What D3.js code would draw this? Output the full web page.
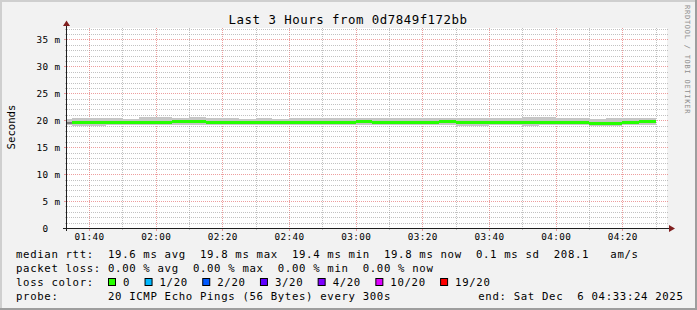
<!DOCTYPE html>
<html>
<head>
<meta charset="utf-8">
<script src="https://cdn.jsdelivr.net/npm/d3@7"></script>
<style>
  body { margin: 0; background: #f2f2f2; }
  svg { display: block; }
  text { font-family: "DejaVu Sans Mono", monospace; white-space: pre; }
</style>
</head>
<body>
<div id="chart"></div>
<script>
// 5 minute steps (UTC clock used as local time of the graph)
const stepStarts = [
  "01:30", "01:35", "01:40", "01:45", "01:50", "01:55",
  "02:00", "02:05", "02:10", "02:15", "02:20", "02:25",
  "02:30", "02:35", "02:40", "02:45", "02:50", "02:55",
  "03:00", "03:05", "03:10", "03:15", "03:20", "03:25",
  "03:30", "03:35", "03:40", "03:45", "03:50", "03:55",
  "04:00", "04:05", "04:10", "04:15", "04:20", "04:25",
];
// median rtt in ms (first partial step has no median drawn)
const medianMs = [
  null, 19.55, 19.55, 19.6, 19.6, 19.6, 19.6, 19.8, 19.8, 19.65, 19.55, 19.6,
  19.65, 19.55, 19.6, 19.5, 19.6, 19.65, 19.75, 19.6, 19.6, 19.65, 19.55, 19.7,
  19.55, 19.5, 19.65, 19.55, 19.55, 19.65, 19.6, 19.6, 19.45, 19.4, 19.6, 19.8,
];
// smoke: outer spread of the 20 pings
const smokeLo = [
  19.1, 18.95, 18.95, 19.1, 19.15, 19.1, 19.05, 19.2, 19.15, 19.05, 19.1, 19.1,
  19.05, 19.1, 19.05, 19.15, 19.1, 19.1, 19.15, 19.05, 19.1, 19.05, 19.1, 19.15,
  19.0, 18.95, 19.1, 19.05, 18.95, 19.1, 19.1, 19.05, 19.0, 19.0, 19.1, 19.2,
];
const smokeHi = [
  20.3, 20.35, 20.35, 20.4, 20.3, 20.55, 20.55, 20.4, 20.55, 20.45, 20.35, 20.3,
  20.35, 20.3, 20.35, 20.35, 20.4, 20.35, 20.45, 20.5, 20.5, 20.4, 20.35, 20.45,
  20.4, 20.35, 20.45, 20.5, 20.55, 20.55, 20.5, 20.4, 20.3, 20.35, 20.4, 20.4,
];
// smoke: inner (denser) part of the pings
const innerLo = [
  19.4, 19.3, 19.3, 19.35, 19.4, 19.35, 19.35, 19.55, 19.5, 19.4, 19.3, 19.35,
  19.4, 19.3, 19.35, 19.3, 19.35, 19.4, 19.5, 19.3, 19.35, 19.4, 19.3, 19.45,
  19.3, 19.25, 19.4, 19.3, 19.3, 19.35, 19.35, 19.35, 19.2, 19.15, 19.35, 19.55,
];
const innerHi = [
  19.75, 19.8, 19.8, 19.9, 19.85, 19.9, 19.9, 20.0, 20.05, 19.9, 19.8, 19.85,
  19.9, 19.8, 19.85, 19.8, 19.9, 19.85, 19.95, 19.9, 19.9, 19.9, 19.8, 19.95,
  19.8, 19.75, 19.9, 19.85, 19.85, 19.95, 19.9, 19.85, 19.7, 19.65, 19.85, 20.0,
];
const lossLabels = ["0", "1/20", "2/20", "3/20", "4/20", "10/20", "19/20"];
const lossColors = ["#26ff00", "#00b8ff", "#0059ff", "#5e00ff", "#7e00ff", "#dd00ff", "#ff0000"];

const width = 697;
const height = 310;
const plotL = 67, plotR = 667, plotT = 28, plotB = 228;

const day = (h, m, s) => new Date(Date.UTC(2025, 11, 6, h, m, s || 0));
const t0 = day(1, 33, 24);
const t1 = day(4, 33, 24);

const x = d3.scaleUtc().domain([t0, t1]).range([plotL, plotR]);
const y = d3.scaleLinear().domain([0, 37.13]).range([plotB, plotT]);

const svg = d3.select("#chart").append("svg")
  .attr("width", width)
  .attr("height", height);

// background + 3d frame
svg.append("rect").attr("width", width).attr("height", height).attr("fill", "#f2f2f2");
svg.append("path").attr("d", `M0,0H${width}V2H2V${height}H0Z`).attr("fill", "#cfcfcf");
svg.append("path").attr("d", `M${width},${height}H0V${height - 2}H${width - 2}V0H${width}Z`).attr("fill", "#9e9e9e");

svg.append("rect")
  .attr("x", plotL).attr("y", plotT)
  .attr("width", plotR - plotL).attr("height", plotB - plotT)
  .attr("fill", "#ffffff");

const minorCol = "rgba(143,143,143,0.55)";
const majorCol = "rgba(222,79,79,0.55)";

const grid = svg.append("g").attr("shape-rendering", "crispEdges");

// vertical grid
const vTimes = d3.utcMinute.every(10).range(t0, t1);
vTimes.forEach((t) => {
  const major = t.getUTCMinutes() % 20 === 0;
  const xx = Math.round(x(t)) + 0.5;
  grid.append("line")
    .attr("x1", xx).attr("x2", xx)
    .attr("y1", plotT).attr("y2", plotB)
    .attr("stroke", major ? majorCol : minorCol)
    .attr("stroke-dasharray", "1,1");
  grid.append("line")
    .attr("x1", xx).attr("x2", xx)
    .attr("y1", plotB).attr("y2", plotB + (major ? 3 : 2))
    .attr("stroke", major ? majorCol : minorCol);
});

// horizontal grid
d3.range(1, 38).forEach((v) => {
  const major = v % 5 === 0;
  const yy = Math.round(y(v)) + 0.5;
  grid.append("line")
    .attr("x1", plotL).attr("x2", plotR + 1)
    .attr("y1", yy).attr("y2", yy)
    .attr("stroke", major ? majorCol : minorCol)
    .attr("stroke-dasharray", "1,1");
  grid.append("line")
    .attr("x1", plotL - (major ? 3 : 2)).attr("x2", plotL)
    .attr("y1", yy).attr("y2", yy)
    .attr("stroke", major ? majorCol : minorCol);
});

// smoke + median
const steps = stepStarts.map((s, i) => {
  const [h, m] = s.split(":").map(Number);
  const start = day(h, m);
  return {
    x0: Math.max(plotL, x(start)),
    x1: x(d3.utcMinute.offset(start, 5)),
    median: medianMs[i],
    lo: smokeLo[i], hi: smokeHi[i],
    ilo: innerLo[i], ihi: innerHi[i],
  };
});

const data = svg.append("g").attr("shape-rendering", "crispEdges");

data.selectAll("rect.outer").data(steps).enter().append("rect")
  .attr("class", "outer")
  .attr("x", (d) => d.x0)
  .attr("width", (d) => d.x1 - d.x0)
  .attr("y", (d) => y(d.hi))
  .attr("height", (d) => y(d.lo) - y(d.hi))
  .attr("fill", "#c6c6c6");

data.selectAll("rect.inner").data(steps).enter().append("rect")
  .attr("class", "inner")
  .attr("x", (d) => d.x0)
  .attr("width", (d) => d.x1 - d.x0)
  .attr("y", (d) => y(d.ihi))
  .attr("height", (d) => y(d.ilo) - y(d.ihi))
  .attr("fill", "#7c7c7c");

data.selectAll("rect.median").data(steps.filter((d) => d.median != null)).enter().append("rect")
  .attr("class", "median")
  .attr("x", (d) => d.x0)
  .attr("width", (d) => d.x1 - d.x0)
  .attr("y", (d) => y(d.median) - 1.5)
  .attr("height", 3)
  .attr("fill", lossColors[0]);

// axes
const axes = svg.append("g").attr("shape-rendering", "crispEdges");
axes.append("line")
  .attr("x1", plotL - 0.5).attr("x2", plotL - 0.5)
  .attr("y1", plotB + 3).attr("y2", 23)
  .attr("stroke", "#1f1f1f");
axes.append("line")
  .attr("x1", plotL - 4).attr("x2", plotR + 4)
  .attr("y1", plotB + 0.5).attr("y2", plotB + 0.5)
  .attr("stroke", "#1f1f1f");
svg.append("path")
  .attr("d", `M${plotL - 0.5},20.5L${plotL + 3},26L${plotL - 4},26Z`)
  .attr("fill", "#801f1f");
svg.append("path")
  .attr("d", `M${plotR + 8},${plotB + 0.5}L${plotR + 2},${plotB - 3}L${plotR + 2},${plotB + 4}Z`)
  .attr("fill", "#801f1f");

// tick labels
const axisFont = { size: "9.33px", spacing: "0.38px" };
d3.utcMinute.every(20).range(t0, t1).forEach((t) => {
  svg.append("text")
    .attr("x", x(t) + 0.5)
    .attr("y", 240)
    .attr("text-anchor", "middle")
    .style("font-size", axisFont.size)
    .style("letter-spacing", axisFont.spacing)
    .text(d3.utcFormat("%H:%M")(t));
});
d3.range(0, 36, 5).forEach((v) => {
  svg.append("text")
    .attr("x", 60.5)
    .attr("y", Math.round(y(v)) + 4)
    .attr("text-anchor", "end")
    .style("font-size", axisFont.size)
    .style("letter-spacing", axisFont.spacing)
    .text(v === 0 ? "0  " : `${v} m`);
});

// title, unit, watermark
svg.append("text")
  .attr("x", 348).attr("y", 24)
  .attr("text-anchor", "middle")
  .style("font-size", "12.4px")
  .style("letter-spacing", "0.5px")
  .text("Last 3 Hours from 0d7849f172bb");

svg.append("text")
  .attr("transform", "translate(15,127) rotate(-90)")
  .attr("text-anchor", "middle")
  .style("font-size", "10.67px")
  .text("Seconds");

svg.append("text")
  .attr("transform", "translate(685,5) rotate(90)")
  .style("font-size", "7px")
  .style("letter-spacing", "0.75px")
  .attr("fill", "#8e8e8e")
  .text("RRDTOOL / TOBI OETIKER");

// legend
const legFont = "10.67px";
const legSpacing = "0.66px";
const legendLine = (txt, xx, yy, anchor) => svg.append("text")
  .attr("x", xx).attr("y", yy)
  .attr("text-anchor", anchor || "start")
  .style("font-size", legFont)
  .style("letter-spacing", legSpacing)
  .text(txt);

legendLine("median rtt:  19.6 ms avg  19.8 ms max  19.4 ms min  19.8 ms now  0.1 ms sd  208.1   am/s", 16, 257.5);
legendLine("packet loss: 0.00 % avg  0.00 % max  0.00 % min  0.00 % now", 16, 271.5);
legendLine("loss color:", 16, 285.5);
let lx = 108.5;
lossLabels.forEach((lab, i) => {
  svg.append("rect")
    .attr("x", lx).attr("y", 278.5)
    .attr("width", 7).attr("height", 7)
    .attr("fill", lossColors[i])
    .attr("stroke", "#000");
  legendLine(lab, lx + 14.5, 285.5);
  lx += 14.5 + lab.length * 7.05 + 15;
});
legendLine("probe:       20 ICMP Echo Pings (56 Bytes) every 300s", 16, 299.5);
legendLine("end: Sat Dec  6 04:33:24 2025", 478.3, 299.5);
</script>
</body>
</html>
